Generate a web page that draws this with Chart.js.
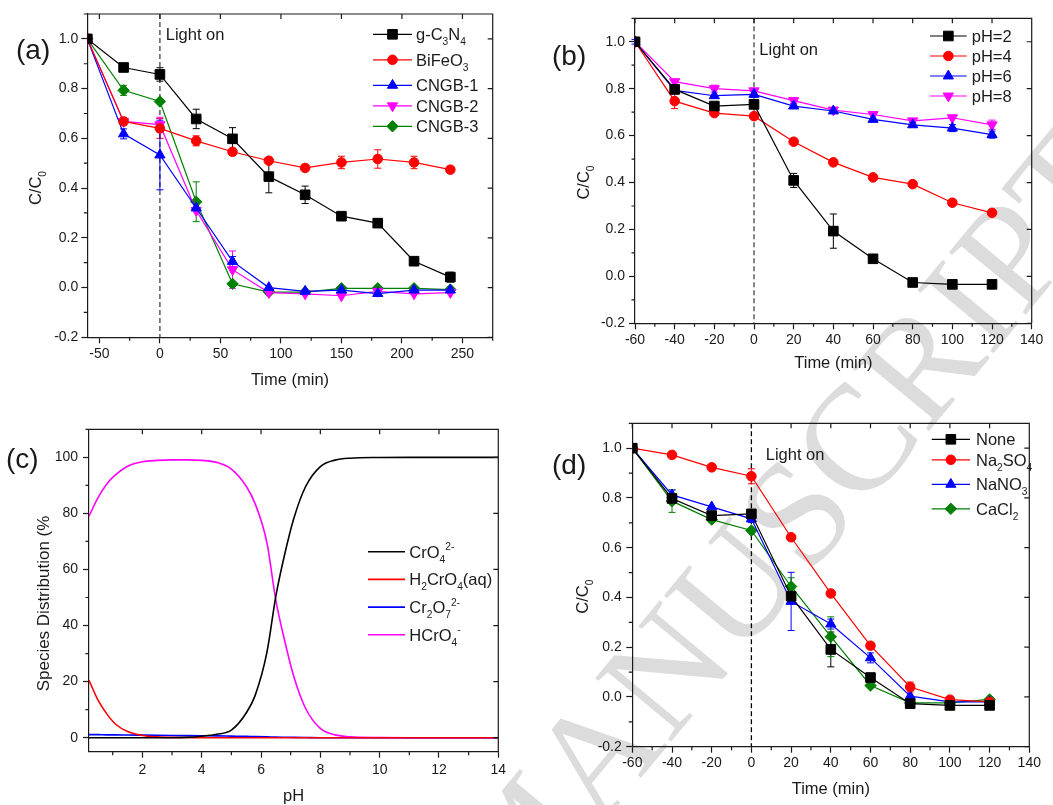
<!DOCTYPE html>
<html>
<head>
<meta charset="utf-8">
<script src="https://cdn.jsdelivr.net/npm/chart.js@4.4.0/dist/chart.umd.min.js"></script>
<style>
    body { margin: 0; background: #fff; width: 1053px; height: 805px; overflow: hidden; position: relative; }
    canvas { position: absolute; }
</style>
</head>
<body>
<canvas id="stamp" width="1053" height="805" style="left:0;top:0"></canvas>
<canvas id="chartA" width="526" height="400" style="left:0;top:0"></canvas>
<canvas id="chartB" width="527" height="400" style="left:526px;top:0"></canvas>
<canvas id="chartC" width="526" height="405" style="left:0;top:400px"></canvas>
<canvas id="chartD" width="527" height="405" style="left:526px;top:400px"></canvas>
<script>
// (a) catalysts
const timeA = [-60, -30, 0, 30, 60, 90, 120, 150, 180, 210, 240];
const gC3N4 = [1.0, 0.885, 0.857, 0.678, 0.598, 0.446, 0.373, 0.287, 0.259, 0.106, 0.042];
const gC3N4Err = [0, 0, 0.027, 0.039, 0.045, 0.065, 0.035, 0, 0, 0, 0.02];
const bifeo3 = [1.0, 0.668, 0.640, 0.590, 0.546, 0.510, 0.481, 0.503, 0.517, 0.503, 0.474];
const bifeo3Err = [0, 0.015, 0.04, 0.02, 0, 0, 0, 0.025, 0.037, 0.025, 0];
const cngb1 = [1.0, 0.618, 0.533, 0.320, 0.105, 0.0, -0.015, -0.010, -0.024, -0.010, -0.010];
const cngb1Err = [0, 0.02, 0.14, 0, 0.02, 0, 0, 0, 0.01, 0, 0];
const cngb2 = [1.0, 0.668, 0.655, 0.310, 0.072, -0.020, -0.025, -0.033, -0.015, -0.025, -0.020];
const cngb2Err = [0, 0, 0.03, 0, 0.075, 0, 0, 0, 0, 0, 0];
const cngb3 = [1.0, 0.793, 0.748, 0.345, 0.015, -0.018, -0.018, -0.003, -0.003, -0.003, -0.008];
const cngb3Err = [0, 0.02, 0, 0.08, 0, 0, 0, 0, 0, 0, 0];

// (b) initial pH
const timeB = [-60, -40, -20, 0, 20, 40, 60, 80, 100, 120];
const pH2 = [1.0, 0.797, 0.726, 0.733, 0.409, 0.193, 0.075, -0.026, -0.034, -0.034];
const pH2Err = [0, 0, 0, 0, 0.03, 0.073, 0, 0, 0, 0];
const pH4 = [1.0, 0.747, 0.696, 0.683, 0.574, 0.486, 0.422, 0.393, 0.314, 0.271];
const pH4Err = [0, 0.032, 0, 0, 0, 0, 0, 0, 0, 0];
const pH6 = [1.0, 0.793, 0.770, 0.776, 0.726, 0.705, 0.669, 0.646, 0.632, 0.604];
const pH6Err = [0.01, 0.015, 0, 0.012, 0.01, 0, 0, 0.01, 0.015, 0.015];
const pH8 = [1.0, 0.830, 0.800, 0.791, 0.749, 0.709, 0.690, 0.663, 0.676, 0.646];
const pH8Err = [0, 0, 0.015, 0, 0.012, 0, 0, 0, 0, 0.02];

// (c) Cr(VI) speciation vs pH
const pHc = [0.2, 0.5, 0.8, 1.1, 1.5, 2, 2.5, 3, 3.5, 4, 4.5, 5, 5.5, 5.8, 6.2, 6.5, 6.8, 7.1, 7.5, 8, 8.5, 9, 10, 11, 12, 13, 14];
const crO4 = [0, 0, 0, 0, 0, 0, 0, 0, 0.1, 0.5, 1.2, 2.7, 8.8, 15, 30.5, 50.5, 65.5, 78, 89.5, 96.7, 99, 99.7, 99.95, 100, 100, 100, 100];
const h2crO4 = [20.5, 13.5, 8.5, 4.8, 2.2, 0.8, 0.3, 0.1, 0.05, 0, 0, 0, 0, 0, 0, 0, 0, 0, 0, 0, 0, 0, 0, 0, 0, 0, 0];
const cr2O7 = [1.1, 1.1, 1.0, 1.0, 0.95, 0.9, 0.85, 0.8, 0.75, 0.7, 0.65, 0.55, 0.45, 0.4, 0.3, 0.2, 0.15, 0.1, 0.05, 0, 0, 0, 0, 0, 0, 0, 0];
const hcrO4 = [79, 85.5, 90.5, 93.8, 96.8, 98.4, 98.9, 99.1, 99.1, 98.9, 98.2, 95.8, 89.7, 83.5, 69.5, 49, 34.5, 22, 10.5, 3.3, 1, 0.3, 0.05, 0, 0, 0, 0];

// (d) coexisting salts
const timeD = [-60, -40, -20, 0, 20, 40, 60, 80, 100, 120];
const noneSalt = [1.0, 0.798, 0.729, 0.736, 0.405, 0.191, 0.078, -0.027, -0.034, -0.034];
const noneErr = [0, 0, 0, 0.01, 0.03, 0.07, 0.01, 0, 0, 0];
const na2so4 = [1.0, 0.973, 0.923, 0.887, 0.642, 0.416, 0.206, 0.040, -0.011, -0.020];
const na2so4Err = [0, 0, 0, 0.03, 0, 0, 0, 0.02, 0, 0];
const nano3 = [1.0, 0.812, 0.764, 0.716, 0.384, 0.293, 0.157, 0.003, -0.020, -0.020];
const nano3Err = [0, 0.02, 0, 0.015, 0.117, 0.02, 0.02, 0, 0, 0];
const cacl2 = [1.0, 0.787, 0.713, 0.669, 0.444, 0.242, 0.046, -0.024, -0.024, -0.010];
const cacl2Err = [0, 0.045, 0.01, 0, 0.035, 0.08, 0, 0, 0, 0];

const FONT = '"Liberation Sans", Arial, Helvetica, sans-serif';
const INK = '#1a1a1a';

// page watermark behind the four panels
(function drawStamp() {
    const ctx = document.getElementById('stamp').getContext('2d');
    ctx.save();
    ctx.translate(513, 932);
    ctx.rotate(-50.3 * Math.PI / 180);
    ctx.font = '151px "Liberation Serif", "DejaVu Serif", serif';
    ctx.fillStyle = '#dcdcdc';
    ctx.textBaseline = 'alphabetic';
    ctx.fillText('MANUSCRIPT', 0, 0);
    ctx.restore();
})();

// markup: _x or _{..} subscript, ^x or ^{..} superscript
function parseRich(str) {
    const out = [];
    let buf = '', i = 0;
    const flush = () => { if (buf) { out.push({ t: buf, k: 0 }); buf = ''; } };
    while (i < str.length) {
        const c = str[i];
        if (c === '_' || c === '^') {
            flush();
            let t;
            if (str[i + 1] === '{') {
                const e = str.indexOf('}', i);
                t = str.slice(i + 2, e);
                i = e + 1;
            } else {
                t = str[i + 1];
                i += 2;
            }
            out.push({ t, k: c === '_' ? -1 : 1 });
        } else {
            buf += c;
            i++;
        }
    }
    flush();
    return out;
}

function drawRich(ctx, str, x, y, size, align) {
    const parts = parseRich(str);
    const small = size * 0.62;
    let total = 0;
    parts.forEach(p => {
        ctx.font = `${p.k ? small : size}px ${FONT}`;
        p.w = ctx.measureText(p.t).width;
        total += p.w;
    });
    let cx = align === 'center' ? x - total / 2 : x;
    ctx.textAlign = 'left';
    ctx.textBaseline = 'alphabetic';
    parts.forEach(p => {
        ctx.font = `${p.k ? small : size}px ${FONT}`;
        const dy = p.k === -1 ? size * 0.3 : p.k === 1 ? -size * 0.45 : 0;
        ctx.fillText(p.t, cx, y + dy);
        cx += p.w;
    });
}

function minorValues(scale, step, major) {
    const vals = [];
    const start = Math.ceil(scale.min / step - 1e-9);
    for (let k = start; k * step <= scale.max + 1e-9; k++) {
        const v = k * step;
        const r = v / major;
        if (Math.abs(r - Math.round(r)) < 1e-6) continue;
        vals.push(v);
    }
    return vals;
}

const panelPlugin = {
    id: 'panel',
    beforeDatasetsDraw(chart, args, opts) {
        const ctx = chart.ctx;
        const area = chart.chartArea;
        const xs = chart.scales.x, ys = chart.scales.y;
        if (opts.lightLine) {
            const px = xs.getPixelForValue(0);
            ctx.save();
            ctx.strokeStyle = opts.lightColor || '#333';
            ctx.lineWidth = 1.3;
            ctx.setLineDash([5, 3]);
            ctx.beginPath();
            ctx.moveTo(px, area.top);
            ctx.lineTo(px, area.bottom);
            ctx.stroke();
            ctx.restore();
        }
        // error bars
        chart.data.datasets.forEach((ds, di) => {
            if (!ds.errorBars) return;
            const meta = chart.getDatasetMeta(di);
            ctx.save();
            ctx.strokeStyle = ds.borderColor;
            ctx.lineWidth = 1;
            ds.errorBars.forEach((e, i) => {
                if (!e) return;
                const pt = meta.data[i];
                const v = ds.data[i].y;
                const y1 = ys.getPixelForValue(v + e);
                const y2 = ys.getPixelForValue(v - e);
                ctx.beginPath();
                ctx.moveTo(pt.x, y1); ctx.lineTo(pt.x, y2);
                ctx.moveTo(pt.x - 3.5, y1); ctx.lineTo(pt.x + 3.5, y1);
                ctx.moveTo(pt.x - 3.5, y2); ctx.lineTo(pt.x + 3.5, y2);
                ctx.stroke();
            });
            ctx.restore();
        });
    },
    afterDraw(chart, args, opts) {
        const ctx = chart.ctx;
        const area = chart.chartArea;
        const xs = chart.scales.x, ys = chart.scales.y;
        ctx.save();
        ctx.strokeStyle = INK;
        ctx.fillStyle = INK;
        ctx.lineWidth = 1.2;
        ctx.beginPath();
        // top and right frame
        ctx.moveTo(area.left, area.top); ctx.lineTo(area.right, area.top); ctx.lineTo(area.right, area.bottom);
        // inward ticks at majors
        xs.ticks.forEach(t => {
            const px = xs.getPixelForValue(t.value);
            ctx.moveTo(px, area.top); ctx.lineTo(px, area.top + 5);
        });
        ys.ticks.forEach(t => {
            const py = ys.getPixelForValue(t.value);
            ctx.moveTo(area.right, py); ctx.lineTo(area.right - 5, py);
        });
        // outward minor ticks
        minorValues(xs, opts.xMinor, opts.xMajor).forEach(v => {
            const px = xs.getPixelForValue(v);
            ctx.moveTo(px, area.bottom); ctx.lineTo(px, area.bottom + 3.5);
        });
        minorValues(ys, opts.yMinor, opts.yMajor).forEach(v => {
            const py = ys.getPixelForValue(v);
            ctx.moveTo(area.left, py); ctx.lineTo(area.left - 3.5, py);
        });
        ctx.stroke();

        // panel tag
        ctx.font = `28px ${FONT}`;
        ctx.textAlign = 'left';
        ctx.textBaseline = 'middle';
        ctx.fillText(opts.tag, opts.tagX, opts.tagY);

        if (opts.lightLine) {
            ctx.font = `16.5px ${FONT}`;
            ctx.fillText('Light on', opts.lightX, opts.lightY);
        }

        // y title, rotated
        ctx.save();
        ctx.translate(opts.yTitleX, opts.yTitleY);
        ctx.rotate(-Math.PI / 2);
        drawRich(ctx, opts.yTitle, 0, opts.yTitleSize * 0.36, opts.yTitleSize, 'center');
        ctx.restore();

        // legend
        const lg = opts.legend;
        let rowY = lg.y0;
        chart.data.datasets.forEach((ds, i) => {
            if (i > 0) {
                const prev = chart.data.datasets[i - 1].label;
                rowY += lg.gap + (prev.indexOf('_') >= 0 ? lg.subExtra : 0);
            }
            ctx.strokeStyle = ds.borderColor;
            ctx.fillStyle = ds.borderColor;
            ctx.lineWidth = ds.borderWidth;
            ctx.beginPath();
            ctx.moveTo(lg.x0, rowY); ctx.lineTo(lg.x1, rowY);
            ctx.stroke();
            if (lg.markers) {
                ctx.lineWidth = 1;
                Chart.helpers.drawPoint(ctx, {
                    pointStyle: ds.pointStyle, rotation: ds.pointRotation || 0,
                    radius: ds.pointRadius, borderWidth: 1
                }, (lg.x0 + lg.x1) / 2, rowY);
            }
            ctx.fillStyle = INK;
            drawRich(ctx, ds.label, lg.tx, rowY + 16.5 * 0.36, 16.5, 'left');
        });
        ctx.restore();
    }
};
Chart.register(panelPlugin);

function pts(xs, ys) {
    return xs.map((x, i) => ({ x, y: ys[i] }));
}

const MARKERS = {
    square: { pointStyle: 'rect', pointRadius: 6.8 },
    circle: { pointStyle: 'circle', pointRadius: 4.8 },
    up: { pointStyle: 'triangle', pointRadius: 5.9 },
    down: { pointStyle: 'triangle', pointRotation: 180, pointRadius: 5.9 },
    diamond: { pointStyle: 'rectRot', pointRadius: 5.7 }
};

function series(label, xs, ys, err, color, marker) {
    return Object.assign({
        label,
        data: pts(xs, ys),
        errorBars: err,
        borderColor: color,
        backgroundColor: color,
        pointBackgroundColor: color,
        pointBorderColor: color,
        pointBorderWidth: 1,
        borderWidth: 1.2,
        tension: 0
    }, MARKERS[marker]);
}

function curve(label, ys, color) {
    return {
        label,
        data: pts(pHc, ys),
        borderColor: color,
        backgroundColor: color,
        borderWidth: 1.6,
        pointRadius: 0,
        cubicInterpolationMode: 'monotone'
    };
}

const fixed1 = v => v.toFixed(1);
const plain = v => String(Math.round(v));

function axis(o, horizontal) {
    const cfg = {
        type: 'linear',
        min: o.min,
        max: o.max,
        border: { color: INK, width: 1.2 },
        grid: { drawOnChartArea: false, drawTicks: true, tickLength: 6, tickWidth: 1.2, tickColor: INK, color: INK },
        ticks: {
            stepSize: o.step, includeBounds: false, autoSkip: false, maxRotation: 0,
            padding: o.pad, color: INK, font: { family: FONT, size: 14 }, callback: o.fmt
        }
    };
    if (horizontal) {
        cfg.title = {
            display: true, text: o.title, color: INK,
            font: { family: FONT, size: 16.5, lineHeight: 1 },
            padding: { top: 0, bottom: o.titlePad }
        };
        cfg.afterFit = s => { s.height = o.size; };
    } else {
        cfg.afterFit = s => { s.width = o.size; };
    }
    return cfg;
}

function makeChart(id, c) {
    return new Chart(document.getElementById(id), {
        type: 'line',
        data: { datasets: c.datasets },
        options: {
            responsive: false,
            animation: false,
            events: [],
            layout: { padding: { top: c.top, right: c.right, left: 0, bottom: 0 } },
            plugins: { legend: { display: false }, tooltip: { enabled: false }, panel: c.panel },
            scales: { x: axis(c.x, true), y: axis(c.y, false) }
        }
    });
}

makeChart('chartA', {
    top: 14, right: 33.3,
    x: { min: -60, max: 275, step: 50, pad: 2.3, fmt: plain, title: 'Time (min)', titlePad: 11.7, size: 62.7 },
    y: { min: -0.2, max: 1.1, step: 0.2, pad: 3, fmt: fixed1, size: 87.3 },
    datasets: [
        series('g-C_3N_4', timeA, gC3N4, gC3N4Err, '#000000', 'square'),
        series('BiFeO_3', timeA, bifeo3, bifeo3Err, '#ff0000', 'circle'),
        series('CNGB-1', timeA, cngb1, cngb1Err, '#0000ff', 'up'),
        series('CNGB-2', timeA, cngb2, cngb2Err, '#ff00ff', 'down'),
        series('CNGB-3', timeA, cngb3, cngb3Err, '#008000', 'diamond')
    ],
    panel: {
        tag: '(a)', tagX: 16, tagY: 51,
        lightLine: true, lightColor: '#444', lightX: 165.7, lightY: 35,
        yTitle: 'C/C_0', yTitleX: 35, yTitleY: 188, yTitleSize: 16.5,
        xMajor: 50, xMinor: 25, yMajor: 0.2, yMinor: 0.1,
        legend: { x0: 373, x1: 412, tx: 416, y0: 34.3, gap: 20.5, subExtra: 5, markers: true }
    }
});

makeChart('chartB', {
    top: 18.3, right: 21.3,
    x: { min: -60, max: 140, step: 20, pad: 2.3, fmt: plain, title: 'Time (min)', titlePad: 28.7, size: 76.7 },
    y: { min: -0.2, max: 1.1, step: 0.2, pad: 4, fmt: fixed1, size: 109 },
    datasets: [
        series('pH=2', timeB, pH2, pH2Err, '#000000', 'square'),
        series('pH=4', timeB, pH4, pH4Err, '#ff0000', 'circle'),
        series('pH=6', timeB, pH6, pH6Err, '#0000ff', 'up'),
        series('pH=8', timeB, pH8, pH8Err, '#ff00ff', 'down')
    ],
    panel: {
        tag: '(b)', tagX: 26, tagY: 57,
        lightLine: true, lightColor: '#444', lightX: 233.3, lightY: 50,
        yTitle: 'C/C_0', yTitleX: 57.3, yTitleY: 182.5, yTitleSize: 16.5,
        xMajor: 20, xMinor: 10, yMajor: 0.2, yMinor: 0.1,
        legend: { x0: 404, x1: 440.7, tx: 445.7, y0: 36, gap: 20, subExtra: 0, markers: true }
    }
});

makeChart('chartC', {
    top: 29.3, right: 27.7,
    x: { min: 0.2, max: 14, step: 2, pad: 3.9, fmt: plain, title: 'pH', titlePad: 0, size: 53.3 },
    y: { min: -5, max: 110, step: 20, pad: 5, fmt: plain, size: 89 },
    datasets: [
        curve('CrO_4^{2-}', crO4, '#000000'),
        curve('H_2CrO_4(aq)', h2crO4, '#ff0000'),
        curve('Cr_2O_7^{2-}', cr2O7, '#0000ff'),
        curve('HCrO_4^-', hcrO4, '#ff00ff')
    ],
    panel: {
        tag: '(c)', tagX: 6, tagY: 60,
        lightLine: false,
        yTitle: 'Species Distribution (%', yTitleX: 42.7, yTitleY: 203.5, yTitleSize: 17,
        xMajor: 2, xMinor: 1, yMajor: 20, yMinor: 10,
        legend: { x0: 368, x1: 405, tx: 409.3, y0: 151.7, gap: 27.7, subExtra: 0, markers: false }
    }
});

makeChart('chartD', {
    top: 23.3, right: 23.7,
    x: { min: -60, max: 140, step: 20, pad: 2.2, fmt: plain, title: 'Time (min)', titlePad: 7.7, size: 58.3 },
    y: { min: -0.2, max: 1.1, step: 0.2, pad: 4.5, fmt: fixed1, size: 106.3 },
    datasets: [
        series('None', timeD, noneSalt, noneErr, '#000000', 'square'),
        series('Na_2SO_4', timeD, na2so4, na2so4Err, '#ff0000', 'circle'),
        series('NaNO_3', timeD, nano3, nano3Err, '#0000ff', 'up'),
        series('CaCl_2', timeD, cacl2, cacl2Err, '#008000', 'diamond')
    ],
    panel: {
        tag: '(d)', tagX: 26, tagY: 66,
        lightLine: true, lightColor: '#000', lightX: 239.7, lightY: 55.7,
        yTitle: 'C/C_0', yTitleX: 55.7, yTitleY: 196.7, yTitleSize: 16.5,
        xMajor: 20, xMinor: 10, yMajor: 0.2, yMinor: 0.1,
        legend: { x0: 405.7, x1: 444, tx: 450, y0: 39.3, gap: 20.5, subExtra: 4, markers: true }
    }
});
</script>
</body>
</html>
